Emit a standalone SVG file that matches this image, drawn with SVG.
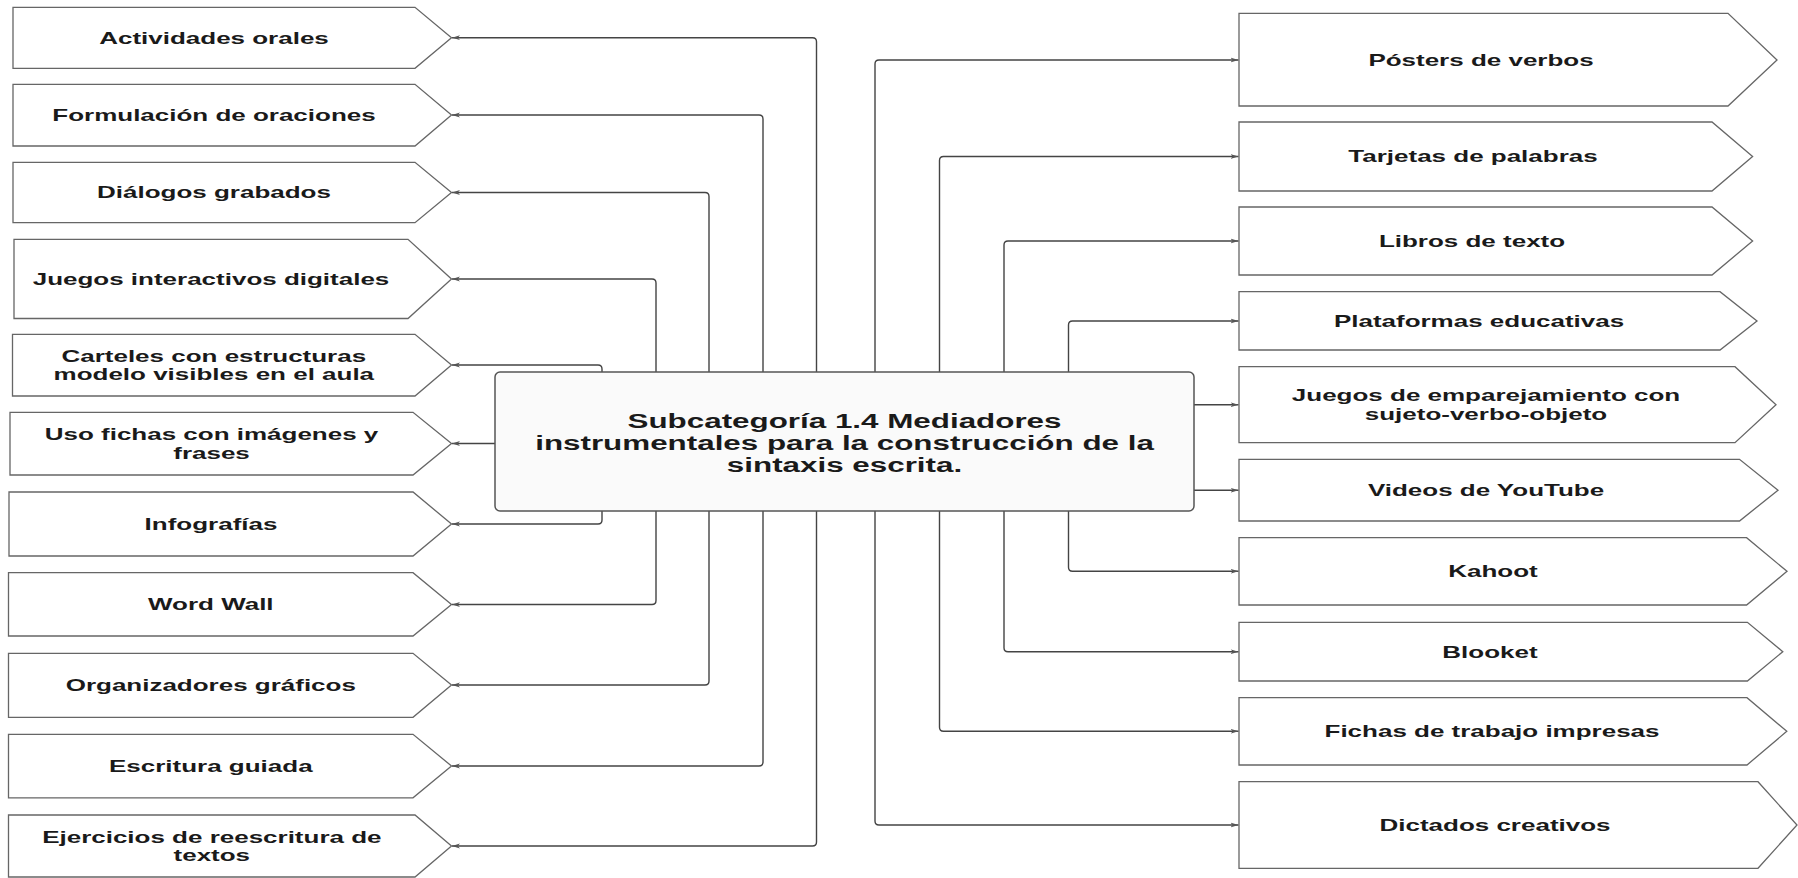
<svg xmlns="http://www.w3.org/2000/svg" width="1798" height="878" viewBox="0 0 1798 878">
  <style>
    .node { fill: #ffffff; stroke: #666666; stroke-width: 1.3; }
    .hub { fill: #fafafa; stroke: #555555; stroke-width: 1.5; }
    .lbl { font-family: "Liberation Sans", Arial, sans-serif; font-weight: bold; font-size: 16.4px; fill: #1a1a1a; text-anchor: middle; }
    .title { font-family: "Liberation Sans", Arial, sans-serif; font-weight: bold; font-size: 19.8px; fill: #1a1a1a; text-anchor: middle; }
    .link { fill: none; stroke: #444444; stroke-width: 1.4; marker-end: url(#arrow); }
  </style>
  <defs>
    <marker id="arrow" viewBox="0 0 8 6" refX="8" refY="3" markerWidth="8" markerHeight="6" markerUnits="userSpaceOnUse" orient="auto">
      <path d="M0,0.6 L8,3 L0,5.4 L2.2,3 z" fill="#555555"/>
    </marker>
  </defs>
  <rect width="1798" height="878" fill="#ffffff"/>

  <!-- connectors -->
  <g id="connectors">
    <!-- left side -->
    <path class="link" d="M816.5,372 V41.7 Q816.5,37.7 812.5,37.7 H452"/>
    <path class="link" d="M763,372 V119 Q763,115 759,115 H452"/>
    <path class="link" d="M709,372 V196.5 Q709,192.5 705,192.5 H452"/>
    <path class="link" d="M656,372 V283 Q656,279 652,279 H452"/>
    <path class="link" d="M602,372 V369 Q602,365 598,365 H452"/>
    <path class="link" d="M495,443.5 H452"/>
    <path class="link" d="M602,511 V520 Q602,524 598,524 H452"/>
    <path class="link" d="M656,511 V600.5 Q656,604.5 652,604.5 H452"/>
    <path class="link" d="M709,511 V681 Q709,685 705,685 H452"/>
    <path class="link" d="M763,511 V762 Q763,766 759,766 H452"/>
    <path class="link" d="M816.5,511 V842 Q816.5,846 812.5,846 H452"/>
    <!-- right side -->
    <path class="link" d="M875,372 V64 Q875,60 879,60 H1238.5"/>
    <path class="link" d="M939.5,372 V160.5 Q939.5,156.5 943.5,156.5 H1238.5"/>
    <path class="link" d="M1004,372 V245 Q1004,241 1008,241 H1238.5"/>
    <path class="link" d="M1068.5,372 V325 Q1068.5,321 1072.5,321 H1238.5"/>
    <path class="link" d="M1194,404.7 H1238.5"/>
    <path class="link" d="M1194,490.2 H1238.5"/>
    <path class="link" d="M1068.5,511 V567.3 Q1068.5,571.3 1072.5,571.3 H1238.5"/>
    <path class="link" d="M1004,511 V647.7 Q1004,651.7 1008,651.7 H1238.5"/>
    <path class="link" d="M939.5,511 V727.3 Q939.5,731.3 943.5,731.3 H1238.5"/>
    <path class="link" d="M875,511 V821 Q875,825 879,825 H1238.5"/>
  </g>

  <!-- central node -->
  <g id="hub">
    <rect class="hub" x="495" y="372" width="699" height="139" rx="5"/>
    <text class="title" transform="translate(844.5,428.3) scale(1.585,1)">Subcategoría 1.4 Mediadores</text>
    <text class="title" transform="translate(844.5,450) scale(1.585,1)">instrumentales para la construcción de la</text>
    <text class="title" transform="translate(844.5,471.7) scale(1.585,1)">sintaxis escrita.</text>
  </g>

  <!-- left column -->
  <g id="actividades-orales">
    <polygon class="node" points="13,7.3 415,7.3 451.5,37.7 415,68.3 13,68.3"/>
    <text class="lbl" transform="translate(214,43.6) scale(1.585,1)">Actividades orales</text>
  </g>
  <g id="formulacion-oraciones">
    <polygon class="node" points="13,84.3 415,84.3 451.5,115 415,146 13,146"/>
    <text class="lbl" transform="translate(214,120.9) scale(1.585,1)">Formulación de oraciones</text>
  </g>
  <g id="dialogos-grabados">
    <polygon class="node" points="13,162.3 415,162.3 451.5,192.5 415,222.7 13,222.7"/>
    <text class="lbl" transform="translate(214,198.4) scale(1.585,1)">Diálogos grabados</text>
  </g>
  <g id="juegos-interactivos">
    <polygon class="node" points="14,239.3 408,239.3 451.5,279 408,318.5 14,318.5"/>
    <text class="lbl" transform="translate(211,284.9) scale(1.585,1)">Juegos interactivos digitales</text>
  </g>
  <g id="carteles">
    <polygon class="node" points="12.5,334.3 415,334.3 451.5,365 415,396 12.5,396"/>
    <text class="lbl" transform="translate(213.8,361.7) scale(1.585,1)">Carteles con estructuras</text>
    <text class="lbl" transform="translate(213.8,380) scale(1.585,1)">modelo visibles en el aula</text>
  </g>
  <g id="uso-fichas">
    <polygon class="node" points="10,412.3 413,412.3 451.5,443.5 413,475 10,475"/>
    <text class="lbl" transform="translate(211.5,440.2) scale(1.585,1)">Uso fichas con imágenes y</text>
    <text class="lbl" transform="translate(211.5,458.5) scale(1.585,1)">frases</text>
  </g>
  <g id="infografias">
    <polygon class="node" points="9,492 413,492 451.5,524 413,556 9,556"/>
    <text class="lbl" transform="translate(211,529.9) scale(1.585,1)">Infografías</text>
  </g>
  <g id="word-wall">
    <polygon class="node" points="8.5,572.7 413,572.7 451.5,604.5 413,636 8.5,636"/>
    <text class="lbl" transform="translate(210.8,610.4) scale(1.585,1)">Word Wall</text>
  </g>
  <g id="organizadores">
    <polygon class="node" points="8.5,653.3 413,653.3 451.5,685 413,717.3 8.5,717.3"/>
    <text class="lbl" transform="translate(210.8,690.9) scale(1.585,1)">Organizadores gráficos</text>
  </g>
  <g id="escritura-guiada">
    <polygon class="node" points="8.5,734.3 413,734.3 451.5,766 413,797.8 8.5,797.8"/>
    <text class="lbl" transform="translate(210.8,771.9) scale(1.585,1)">Escritura guiada</text>
  </g>
  <g id="ejercicios-reescritura">
    <polygon class="node" points="8.5,815 415,815 451.5,846 415,877 8.5,877"/>
    <text class="lbl" transform="translate(211.8,842.7) scale(1.585,1)">Ejercicios de reescritura de</text>
    <text class="lbl" transform="translate(211.8,861) scale(1.585,1)">textos</text>
  </g>

  <!-- right column -->
  <g id="posters-verbos">
    <polygon class="node" points="1239,13.3 1728,13.3 1777,60 1728,106 1239,106"/>
    <text class="lbl" transform="translate(1481,65.9) scale(1.585,1)">Pósters de verbos</text>
  </g>
  <g id="tarjetas-palabras">
    <polygon class="node" points="1239,122 1712,122 1752.6,156.5 1712,191 1239,191"/>
    <text class="lbl" transform="translate(1473,162.4) scale(1.585,1)">Tarjetas de palabras</text>
  </g>
  <g id="libros-texto">
    <polygon class="node" points="1239,207 1712,207 1752.6,241 1712,275 1239,275"/>
    <text class="lbl" transform="translate(1472,246.9) scale(1.585,1)">Libros de texto</text>
  </g>
  <g id="plataformas-educativas">
    <polygon class="node" points="1239,291.7 1720,291.7 1757,321 1720,350 1239,350"/>
    <text class="lbl" transform="translate(1479,326.9) scale(1.585,1)">Plataformas educativas</text>
  </g>
  <g id="juegos-emparejamiento">
    <polygon class="node" points="1239,366.7 1735,366.7 1776,404.7 1735,442.7 1239,442.7"/>
    <text class="lbl" transform="translate(1486,401.4) scale(1.585,1)">Juegos de emparejamiento con</text>
    <text class="lbl" transform="translate(1486,419.7) scale(1.585,1)">sujeto-verbo-objeto</text>
  </g>
  <g id="videos-youtube">
    <polygon class="node" points="1239,459.3 1739.5,459.3 1778,490.2 1739.5,521 1239,521"/>
    <text class="lbl" transform="translate(1486,496.1) scale(1.585,1)">Videos de YouTube</text>
  </g>
  <g id="kahoot">
    <polygon class="node" points="1239,537.7 1746.6,537.7 1787,571.3 1746.6,605 1239,605"/>
    <text class="lbl" transform="translate(1493,577.2) scale(1.585,1)">Kahoot</text>
  </g>
  <g id="blooket">
    <polygon class="node" points="1239,622.3 1747.4,622.3 1782.8,651.7 1747.4,681 1239,681"/>
    <text class="lbl" transform="translate(1490,657.6) scale(1.585,1)">Blooket</text>
  </g>
  <g id="fichas-trabajo">
    <polygon class="node" points="1239,697.7 1747,697.7 1786.8,731.3 1747,765 1239,765"/>
    <text class="lbl" transform="translate(1492,737.2) scale(1.585,1)">Fichas de trabajo impresas</text>
  </g>
  <g id="dictados-creativos">
    <polygon class="node" points="1239,781.7 1758,781.7 1797,825 1758,868.3 1239,868.3"/>
    <text class="lbl" transform="translate(1495,830.9) scale(1.585,1)">Dictados creativos</text>
  </g>
</svg>
